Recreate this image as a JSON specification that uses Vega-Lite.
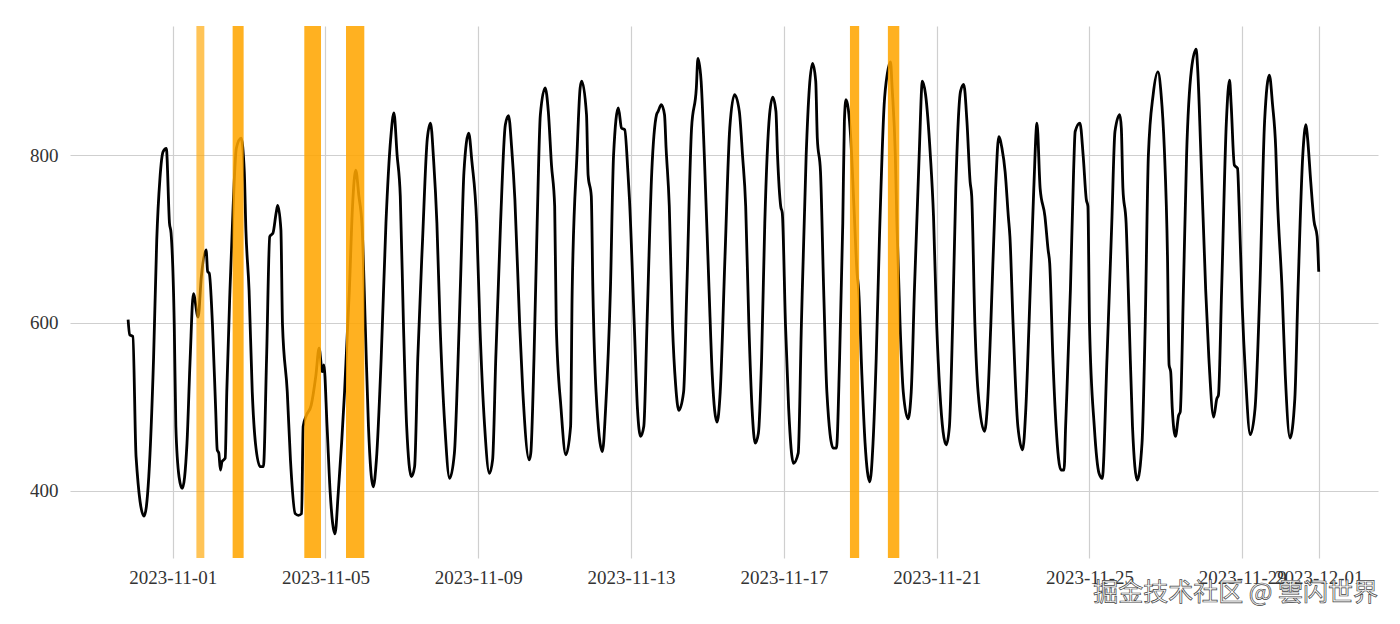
{
  "$schema": "https://vega.github.io/schema/vega-lite/v6.json",
  "width": 1308,
  "height": 532,
  "autosize": {"type": "none"},
  "padding": {"left": 70, "top": 26, "right": 22, "bottom": 66},
  "background": "white",
  "title": {"text": "掘金技术社区 @ 雲闪世界", "orient": "bottom", "anchor": "end", "frame": "group", "offset": -6, "font": "Noto Sans CJK SC", "fontSize": 25, "fontWeight": "normal", "color": "#ffffff"},
  "datasets": {
    "series": [
      {"t": "2023-10-30T20:00", "v": 604}, {"t": "2023-10-30T21:00", "v": 586}, {"t": "2023-10-30T23:00", "v": 584},
      {"t": "2023-10-31T01:00", "v": 441}, {"t": "2023-10-31T06:00", "v": 370}, {"t": "2023-10-31T09:00", "v": 417},
      {"t": "2023-10-31T12:00", "v": 558}, {"t": "2023-10-31T14:00", "v": 699}, {"t": "2023-10-31T16:00", "v": 772},
      {"t": "2023-10-31T18:00", "v": 804}, {"t": "2023-10-31T20:00", "v": 808}, {"t": "2023-10-31T22:00", "v": 719},
      {"t": "2023-10-31T23:00", "v": 707},
      {"t": "2023-11-01T01:00", "v": 598}, {"t": "2023-11-01T02:00", "v": 477}, {"t": "2023-11-01T04:00", "v": 417},
      {"t": "2023-11-01T06:00", "v": 403}, {"t": "2023-11-01T09:00", "v": 457}, {"t": "2023-11-01T11:00", "v": 558},
      {"t": "2023-11-01T13:00", "v": 635}, {"t": "2023-11-01T16:00", "v": 607}, {"t": "2023-11-01T18:00", "v": 655},
      {"t": "2023-11-01T21:00", "v": 687}, {"t": "2023-11-01T22:00", "v": 661}, {"t": "2023-11-01T23:00", "v": 659},
      {"t": "2023-11-02T01:00", "v": 598}, {"t": "2023-11-02T03:00", "v": 498}, {"t": "2023-11-02T04:00", "v": 449},
      {"t": "2023-11-02T05:00", "v": 445}, {"t": "2023-11-02T06:00", "v": 425}, {"t": "2023-11-02T07:00", "v": 435},
      {"t": "2023-11-02T09:00", "v": 439}, {"t": "2023-11-02T10:00", "v": 518}, {"t": "2023-11-02T12:00", "v": 639},
      {"t": "2023-11-02T14:00", "v": 739}, {"t": "2023-11-02T16:00", "v": 808}, {"t": "2023-11-02T19:00", "v": 820},
      {"t": "2023-11-02T21:00", "v": 780}, {"t": "2023-11-02T22:00", "v": 711},
      {"t": "2023-11-03T00:00", "v": 639}, {"t": "2023-11-03T02:00", "v": 518}, {"t": "2023-11-03T04:00", "v": 457},
      {"t": "2023-11-03T07:00", "v": 429}, {"t": "2023-11-03T09:00", "v": 429}, {"t": "2023-11-03T11:00", "v": 558},
      {"t": "2023-11-03T13:00", "v": 703}, {"t": "2023-11-03T15:00", "v": 707}, {"t": "2023-11-03T17:00", "v": 731},
      {"t": "2023-11-03T18:00", "v": 740}, {"t": "2023-11-03T20:00", "v": 711}, {"t": "2023-11-03T21:00", "v": 598},
      {"t": "2023-11-04T00:00", "v": 518}, {"t": "2023-11-04T02:00", "v": 437}, {"t": "2023-11-04T05:00", "v": 373},
      {"t": "2023-11-04T07:00", "v": 371}, {"t": "2023-11-04T09:00", "v": 373}, {"t": "2023-11-04T10:00", "v": 477},
      {"t": "2023-11-04T12:00", "v": 490}, {"t": "2023-11-04T15:00", "v": 502}, {"t": "2023-11-04T18:00", "v": 538},
      {"t": "2023-11-04T20:00", "v": 570}, {"t": "2023-11-04T22:00", "v": 542}, {"t": "2023-11-04T23:00", "v": 550},
      {"t": "2023-11-05T01:00", "v": 477}, {"t": "2023-11-05T03:00", "v": 397}, {"t": "2023-11-05T06:00", "v": 349},
      {"t": "2023-11-05T08:00", "v": 397}, {"t": "2023-11-05T12:00", "v": 518}, {"t": "2023-11-05T15:00", "v": 639},
      {"t": "2023-11-05T17:00", "v": 739}, {"t": "2023-11-05T19:00", "v": 782}, {"t": "2023-11-05T21:00", "v": 751},
      {"t": "2023-11-05T23:00", "v": 715},
      {"t": "2023-11-06T01:00", "v": 598}, {"t": "2023-11-06T03:00", "v": 477}, {"t": "2023-11-06T06:00", "v": 405},
      {"t": "2023-11-06T08:00", "v": 437}, {"t": "2023-11-06T11:00", "v": 558}, {"t": "2023-11-06T14:00", "v": 719},
      {"t": "2023-11-06T17:00", "v": 820}, {"t": "2023-11-06T19:00", "v": 850}, {"t": "2023-11-06T21:00", "v": 800},
      {"t": "2023-11-06T23:00", "v": 751},
      {"t": "2023-11-07T01:00", "v": 598}, {"t": "2023-11-07T03:00", "v": 477}, {"t": "2023-11-07T06:00", "v": 417},
      {"t": "2023-11-07T08:00", "v": 429}, {"t": "2023-11-07T10:00", "v": 558}, {"t": "2023-11-07T13:00", "v": 699},
      {"t": "2023-11-07T16:00", "v": 820}, {"t": "2023-11-07T18:00", "v": 838}, {"t": "2023-11-07T20:00", "v": 792},
      {"t": "2023-11-07T22:00", "v": 719},
      {"t": "2023-11-08T00:00", "v": 598}, {"t": "2023-11-08T03:00", "v": 477}, {"t": "2023-11-08T06:00", "v": 415},
      {"t": "2023-11-08T09:00", "v": 445}, {"t": "2023-11-08T11:00", "v": 538}, {"t": "2023-11-08T13:00", "v": 659},
      {"t": "2023-11-08T15:00", "v": 780}, {"t": "2023-11-08T18:00", "v": 826}, {"t": "2023-11-08T20:00", "v": 792},
      {"t": "2023-11-08T23:00", "v": 719},
      {"t": "2023-11-09T01:00", "v": 598}, {"t": "2023-11-09T04:00", "v": 477}, {"t": "2023-11-09T07:00", "v": 421},
      {"t": "2023-11-09T09:00", "v": 437}, {"t": "2023-11-09T11:00", "v": 558}, {"t": "2023-11-09T14:00", "v": 719},
      {"t": "2023-11-09T17:00", "v": 836}, {"t": "2023-11-09T19:00", "v": 847}, {"t": "2023-11-09T21:00", "v": 808},
      {"t": "2023-11-09T23:00", "v": 747},
      {"t": "2023-11-10T02:00", "v": 598}, {"t": "2023-11-10T04:00", "v": 518}, {"t": "2023-11-10T08:00", "v": 437},
      {"t": "2023-11-10T09:00", "v": 445}, {"t": "2023-11-10T11:00", "v": 558}, {"t": "2023-11-10T13:00", "v": 719},
      {"t": "2023-11-10T15:00", "v": 848}, {"t": "2023-11-10T18:00", "v": 880}, {"t": "2023-11-10T20:00", "v": 852},
      {"t": "2023-11-10T22:00", "v": 788},
      {"t": "2023-11-11T00:00", "v": 739}, {"t": "2023-11-11T01:00", "v": 598}, {"t": "2023-11-11T04:00", "v": 498},
      {"t": "2023-11-11T07:00", "v": 443}, {"t": "2023-11-11T10:00", "v": 477}, {"t": "2023-11-11T11:00", "v": 639},
      {"t": "2023-11-11T14:00", "v": 800}, {"t": "2023-11-11T16:00", "v": 880}, {"t": "2023-11-11T17:00", "v": 888},
      {"t": "2023-11-11T20:00", "v": 848}, {"t": "2023-11-11T21:00", "v": 776}, {"t": "2023-11-11T23:00", "v": 751},
      {"t": "2023-11-12T00:00", "v": 639}, {"t": "2023-11-12T02:00", "v": 518}, {"t": "2023-11-12T06:00", "v": 447},
      {"t": "2023-11-12T08:00", "v": 498}, {"t": "2023-11-12T11:00", "v": 639}, {"t": "2023-11-12T13:00", "v": 800},
      {"t": "2023-11-12T16:00", "v": 856}, {"t": "2023-11-12T18:00", "v": 832}, {"t": "2023-11-12T20:00", "v": 830},
      {"t": "2023-11-12T22:00", "v": 780}, {"t": "2023-11-12T23:00", "v": 747},
      {"t": "2023-11-13T02:00", "v": 598}, {"t": "2023-11-13T04:00", "v": 498}, {"t": "2023-11-13T06:00", "v": 465},
      {"t": "2023-11-13T08:00", "v": 477}, {"t": "2023-11-13T10:00", "v": 598}, {"t": "2023-11-13T13:00", "v": 780},
      {"t": "2023-11-13T16:00", "v": 848}, {"t": "2023-11-13T17:00", "v": 852}, {"t": "2023-11-13T19:00", "v": 860},
      {"t": "2023-11-13T21:00", "v": 848}, {"t": "2023-11-13T22:00", "v": 808},
      {"t": "2023-11-14T00:00", "v": 739}, {"t": "2023-11-14T02:00", "v": 598}, {"t": "2023-11-14T04:00", "v": 526},
      {"t": "2023-11-14T06:00", "v": 496}, {"t": "2023-11-14T09:00", "v": 518}, {"t": "2023-11-14T11:00", "v": 639},
      {"t": "2023-11-14T14:00", "v": 832}, {"t": "2023-11-14T17:00", "v": 880}, {"t": "2023-11-14T18:00", "v": 915},
      {"t": "2023-11-14T20:00", "v": 888}, {"t": "2023-11-14T22:00", "v": 800},
      {"t": "2023-11-15T01:00", "v": 639}, {"t": "2023-11-15T03:00", "v": 538}, {"t": "2023-11-15T06:00", "v": 482},
      {"t": "2023-11-15T08:00", "v": 518}, {"t": "2023-11-15T11:00", "v": 679}, {"t": "2023-11-15T14:00", "v": 832},
      {"t": "2023-11-15T17:00", "v": 872}, {"t": "2023-11-15T20:00", "v": 852}, {"t": "2023-11-15T22:00", "v": 800},
      {"t": "2023-11-16T00:00", "v": 739}, {"t": "2023-11-16T02:00", "v": 598}, {"t": "2023-11-16T04:00", "v": 498},
      {"t": "2023-11-16T06:00", "v": 457}, {"t": "2023-11-16T08:00", "v": 469}, {"t": "2023-11-16T10:00", "v": 558},
      {"t": "2023-11-16T12:00", "v": 719}, {"t": "2023-11-16T15:00", "v": 848}, {"t": "2023-11-16T17:00", "v": 869},
      {"t": "2023-11-16T19:00", "v": 852}, {"t": "2023-11-16T20:00", "v": 800}, {"t": "2023-11-16T22:00", "v": 739},
      {"t": "2023-11-16T23:00", "v": 731},
      {"t": "2023-11-17T01:00", "v": 598}, {"t": "2023-11-17T03:00", "v": 498}, {"t": "2023-11-17T06:00", "v": 433},
      {"t": "2023-11-17T09:00", "v": 445}, {"t": "2023-11-17T11:00", "v": 598}, {"t": "2023-11-17T14:00", "v": 800},
      {"t": "2023-11-17T16:00", "v": 880}, {"t": "2023-11-17T18:00", "v": 909}, {"t": "2023-11-17T20:00", "v": 888},
      {"t": "2023-11-17T21:00", "v": 820}, {"t": "2023-11-17T23:00", "v": 780},
      {"t": "2023-11-18T01:00", "v": 639}, {"t": "2023-11-18T03:00", "v": 518}, {"t": "2023-11-18T07:00", "v": 451},
      {"t": "2023-11-18T09:00", "v": 451}, {"t": "2023-11-18T11:00", "v": 558}, {"t": "2023-11-18T13:00", "v": 719},
      {"t": "2023-11-18T14:00", "v": 840}, {"t": "2023-11-18T15:00", "v": 866}, {"t": "2023-11-18T18:00", "v": 820},
      {"t": "2023-11-18T20:00", "v": 739}, {"t": "2023-11-18T22:00", "v": 659}, {"t": "2023-11-18T23:00", "v": 639},
      {"t": "2023-11-19T01:00", "v": 538}, {"t": "2023-11-19T03:00", "v": 457}, {"t": "2023-11-19T06:00", "v": 411},
      {"t": "2023-11-19T08:00", "v": 457}, {"t": "2023-11-19T10:00", "v": 558}, {"t": "2023-11-19T12:00", "v": 699},
      {"t": "2023-11-19T15:00", "v": 860}, {"t": "2023-11-19T17:00", "v": 897}, {"t": "2023-11-19T19:00", "v": 911},
      {"t": "2023-11-19T20:00", "v": 880}, {"t": "2023-11-19T22:00", "v": 800}, {"t": "2023-11-19T23:00", "v": 719},
      {"t": "2023-11-20T01:00", "v": 598}, {"t": "2023-11-20T03:00", "v": 518}, {"t": "2023-11-20T06:00", "v": 486},
      {"t": "2023-11-20T08:00", "v": 518}, {"t": "2023-11-20T10:00", "v": 639}, {"t": "2023-11-20T13:00", "v": 800},
      {"t": "2023-11-20T15:00", "v": 888}, {"t": "2023-11-20T17:00", "v": 872}, {"t": "2023-11-20T20:00", "v": 800},
      {"t": "2023-11-20T22:00", "v": 727},
      {"t": "2023-11-21T00:00", "v": 598}, {"t": "2023-11-21T02:00", "v": 518}, {"t": "2023-11-21T06:00", "v": 455},
      {"t": "2023-11-21T08:00", "v": 477}, {"t": "2023-11-21T10:00", "v": 598}, {"t": "2023-11-21T12:00", "v": 760},
      {"t": "2023-11-21T15:00", "v": 876}, {"t": "2023-11-21T17:00", "v": 884}, {"t": "2023-11-21T19:00", "v": 840},
      {"t": "2023-11-21T21:00", "v": 768}, {"t": "2023-11-21T22:00", "v": 751},
      {"t": "2023-11-22T00:00", "v": 598}, {"t": "2023-11-22T02:00", "v": 518}, {"t": "2023-11-22T06:00", "v": 471},
      {"t": "2023-11-22T08:00", "v": 506}, {"t": "2023-11-22T10:00", "v": 598}, {"t": "2023-11-22T13:00", "v": 760},
      {"t": "2023-11-22T15:00", "v": 822}, {"t": "2023-11-22T17:00", "v": 808}, {"t": "2023-11-22T19:00", "v": 780},
      {"t": "2023-11-22T21:00", "v": 727}, {"t": "2023-11-22T22:00", "v": 703},
      {"t": "2023-11-23T00:00", "v": 598}, {"t": "2023-11-23T03:00", "v": 477}, {"t": "2023-11-23T06:00", "v": 449},
      {"t": "2023-11-23T08:00", "v": 498}, {"t": "2023-11-23T10:00", "v": 598}, {"t": "2023-11-23T13:00", "v": 760},
      {"t": "2023-11-23T15:00", "v": 838}, {"t": "2023-11-23T17:00", "v": 760}, {"t": "2023-11-23T20:00", "v": 727},
      {"t": "2023-11-23T22:00", "v": 687}, {"t": "2023-11-23T23:00", "v": 671},
      {"t": "2023-11-24T01:00", "v": 558}, {"t": "2023-11-24T03:00", "v": 477}, {"t": "2023-11-24T06:00", "v": 425},
      {"t": "2023-11-24T08:00", "v": 425}, {"t": "2023-11-24T09:00", "v": 477}, {"t": "2023-11-24T12:00", "v": 639},
      {"t": "2023-11-24T14:00", "v": 780}, {"t": "2023-11-24T15:00", "v": 828}, {"t": "2023-11-24T18:00", "v": 838},
      {"t": "2023-11-24T20:00", "v": 800}, {"t": "2023-11-24T22:00", "v": 747}, {"t": "2023-11-24T23:00", "v": 739},
      {"t": "2023-11-25T00:00", "v": 598}, {"t": "2023-11-25T03:00", "v": 477}, {"t": "2023-11-25T06:00", "v": 421},
      {"t": "2023-11-25T08:00", "v": 415}, {"t": "2023-11-25T11:00", "v": 558}, {"t": "2023-11-25T14:00", "v": 719},
      {"t": "2023-11-25T16:00", "v": 828}, {"t": "2023-11-25T19:00", "v": 848}, {"t": "2023-11-25T20:00", "v": 832},
      {"t": "2023-11-25T21:00", "v": 760}, {"t": "2023-11-25T23:00", "v": 719},
      {"t": "2023-11-26T01:00", "v": 598}, {"t": "2023-11-26T03:00", "v": 477}, {"t": "2023-11-26T06:00", "v": 413},
      {"t": "2023-11-26T09:00", "v": 457}, {"t": "2023-11-26T11:00", "v": 598}, {"t": "2023-11-26T13:00", "v": 800},
      {"t": "2023-11-26T16:00", "v": 872}, {"t": "2023-11-26T19:00", "v": 899}, {"t": "2023-11-26T21:00", "v": 872},
      {"t": "2023-11-26T23:00", "v": 808},
      {"t": "2023-11-27T01:00", "v": 679}, {"t": "2023-11-27T02:00", "v": 550}, {"t": "2023-11-27T03:00", "v": 542},
      {"t": "2023-11-27T04:00", "v": 498}, {"t": "2023-11-27T06:00", "v": 465}, {"t": "2023-11-27T08:00", "v": 490},
      {"t": "2023-11-27T09:00", "v": 494}, {"t": "2023-11-27T11:00", "v": 639}, {"t": "2023-11-27T13:00", "v": 800},
      {"t": "2023-11-27T16:00", "v": 901}, {"t": "2023-11-27T19:00", "v": 926}, {"t": "2023-11-27T20:00", "v": 901},
      {"t": "2023-11-27T22:00", "v": 800},
      {"t": "2023-11-28T01:00", "v": 639}, {"t": "2023-11-28T03:00", "v": 558}, {"t": "2023-11-28T06:00", "v": 488},
      {"t": "2023-11-28T08:00", "v": 510}, {"t": "2023-11-28T09:00", "v": 514}, {"t": "2023-11-28T11:00", "v": 639},
      {"t": "2023-11-28T14:00", "v": 840}, {"t": "2023-11-28T16:00", "v": 889}, {"t": "2023-11-28T17:00", "v": 860},
      {"t": "2023-11-28T19:00", "v": 788}, {"t": "2023-11-28T21:00", "v": 784}, {"t": "2023-11-28T22:00", "v": 739},
      {"t": "2023-11-29T00:00", "v": 618}, {"t": "2023-11-29T02:00", "v": 538}, {"t": "2023-11-29T05:00", "v": 467},
      {"t": "2023-11-29T08:00", "v": 498}, {"t": "2023-11-29T11:00", "v": 639}, {"t": "2023-11-29T14:00", "v": 840},
      {"t": "2023-11-29T17:00", "v": 895}, {"t": "2023-11-29T19:00", "v": 860}, {"t": "2023-11-29T21:00", "v": 808},
      {"t": "2023-11-29T22:00", "v": 751},
      {"t": "2023-11-30T01:00", "v": 639}, {"t": "2023-11-30T03:00", "v": 538}, {"t": "2023-11-30T06:00", "v": 463},
      {"t": "2023-11-30T09:00", "v": 510}, {"t": "2023-11-30T11:00", "v": 639}, {"t": "2023-11-30T14:00", "v": 800},
      {"t": "2023-11-30T16:00", "v": 836}, {"t": "2023-11-30T17:00", "v": 820}, {"t": "2023-11-30T19:00", "v": 768},
      {"t": "2023-11-30T21:00", "v": 722}, {"t": "2023-11-30T23:00", "v": 703},
      {"t": "2023-12-01T00:00", "v": 661}
    ],
    "anomalies": [
      {"start": "2023-11-01T14:54", "end": "2023-11-01T19:54", "level": "low"},
      {"start": "2023-11-02T13:40", "end": "2023-11-02T20:35", "level": "high"},
      {"start": "2023-11-04T10:42", "end": "2023-11-04T21:12", "level": "high"},
      {"start": "2023-11-05T12:54", "end": "2023-11-06T00:24", "level": "high"},
      {"start": "2023-11-18T17:30", "end": "2023-11-18T23:18", "level": "high"},
      {"start": "2023-11-19T17:20", "end": "2023-11-20T00:30", "level": "high"}
    ]
  },
  "layer": [
    {
      "data": {"name": "series"},
      "mark": {"type": "line", "color": "#000000", "strokeWidth": 2.8, "interpolate": "monotone", "strokeJoin": "round"},
      "encoding": {
        "x": {
          "field": "t", "type": "temporal",
          "scale": {"domain": [{"year": 2023, "month": 10, "date": 29, "hours": 7, "minutes": 30}, {"year": 2023, "month": 12, "date": 2, "hours": 13, "minutes": 15}], "nice": false},
          "axis": {
            "title": null,
            "values": [
              {"year": 2023, "month": 11, "date": 1}, {"year": 2023, "month": 11, "date": 5}, {"year": 2023, "month": 11, "date": 9},
              {"year": 2023, "month": 11, "date": 13}, {"year": 2023, "month": 11, "date": 17}, {"year": 2023, "month": 11, "date": 21},
              {"year": 2023, "month": 11, "date": 25}, {"year": 2023, "month": 11, "date": 29}, {"year": 2023, "month": 12, "date": 1}
            ],
            "format": "%Y-%m-%d",
            "grid": true, "gridColor": "#cfcfcf", "gridWidth": 1.2,
            "domain": false, "ticks": false,
            "labelPadding": 10, "labelOverlap": false, "labelFlush": false, "labelBound": false,
            "labelFont": "Liberation Serif", "labelFontSize": 19, "labelColor": "#333333"
          }
        },
        "y": {
          "field": "v", "type": "quantitative",
          "scale": {"domain": [320.2, 953.6], "nice": false, "zero": false},
          "axis": {
            "title": null, "values": [400, 600, 800],
            "grid": true, "gridColor": "#cfcfcf", "gridWidth": 1.2,
            "domain": false, "ticks": false, "labelPadding": 12,
            "labelFont": "Liberation Serif", "labelFontSize": 19, "labelColor": "#333333"
          }
        }
      }
    },
    {
      "data": {"name": "anomalies"},
      "mark": {"type": "rect", "color": "#FFA500"},
      "encoding": {
        "x": {"field": "start", "type": "temporal", "scale": {"domain": [{"year": 2023, "month": 10, "date": 29, "hours": 7, "minutes": 30}, {"year": 2023, "month": 12, "date": 2, "hours": 13, "minutes": 15}], "nice": false}},
        "x2": {"field": "end"},
        "opacity": {"field": "level", "type": "ordinal", "scale": {"domain": ["low", "high"], "range": [0.66, 0.87]}, "legend": null}
      }
    }
  ],
  "config": {
    "view": {"stroke": null},
    "style": {"group-title": {"stroke": "#444444", "strokeWidth": 0.7}}
  }
}
